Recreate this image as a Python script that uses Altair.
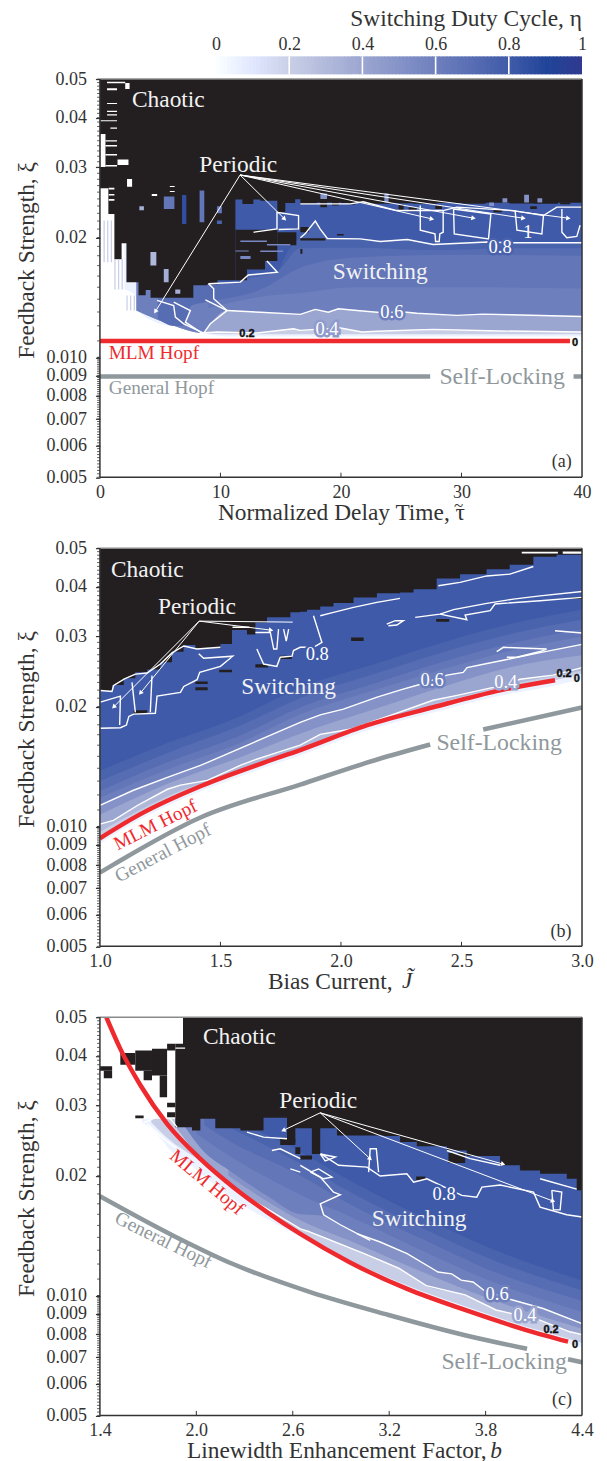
import altair as alt
import pandas as pd

SERIF = "Liberation Serif"
BLACK = "#231f20"; RED = "#ee2a2e"; GRAY = "#8f989c"; INK = "#333333"
W, H = 482.5, 398.5
TOPS = [76.7, 545.7, 1015.0]
LEFT = 99.5
levels = [0, .2, .4, .6, .8, .9, 1]
level_colors = ["#ffffff", "#c8cee6", "#9aa5d0", "#6d7fbd", "#3e5aa8", "#1f4499", "#30398f"]
cmap = alt.Scale(domain=levels, range=level_colors)
xi_major = [.05, .04, .03, .02, .01, .009, .008, .007, .006, .005]
xi_minor = [round(.005 + .0001 * i, 4) for i in range(51)] + [round(.01 + .001 * i, 3) for i in range(41)]

# ---------- panel (a) : delay time ----------
a_bands = [
 (.05, [2.03,2.95,3.03,6.13,6.82,8.47,10.8,40], [.01481,.0143,.01311,.01199,.01199,.01151,.01129,.01129]),
 (.2, [3.03,6.13,8.47,10.8,40], [.01311,.012,.01151,.01143,.01143]),
 (.4, [3.03,6.13,8.47,9.72,13.03,16.07,16.62,17.87,19.95,21.74,22.98,27.65,33.2,40],
      [.01311,.012,.01151,.01158,.01151,.0118,.01169,.01176,.01185,.01158,.01163,.01176,.01165,.01158]),
 (.6, [3.03,6.13,8.58,9.16,10.55,13.31,16.63,17.87,18.95,19.78,21.33,22.99,25.47,26.3,29.62,31.8,34.04,40],
      [.01311,.012,.01151,.01214,.01311,.01298,.01282,.0132,.01298,.01324,.01311,.01298,.01298,.01291,.01275,.01284,.01279,.01267]),
 (.65, [9,13.31,16.63,21,29.62,40], [.0133,.0142,.0145,.015,.015,.0149]),
 (.7, [4.8,6.1,6.9,7.6,9,13.31,16.63,21,29.62,40], [.0125,.012,.012,.0135,.01379,.0148,.0168,.0178,.0181,.018]),
 (.75, [11,14.72,16.63,21.6,27.65,34.3,40], [.0156,.0165,.0188,.01885,.0186,.0188,.0188]),
 (.8, [9.0,11.65,12.31,14.72,15.2,15.8,16.63,17.0,17.87,18.28,18.87,21.6,23.26,25.5,27.65,32.13,34.3,40],
      [.0153,.01545,.0161,.01636,.01754,.0189,.01997,.0204,.022,.021,.01988,.01984,.01954,.01977,.0192,.01948,.0194,.0194]),
]
a_patches = [
 (.92, [(2.03,.01481,.05),(2.95,.0143,.05),(3.03,.01311,.05),(4.77,.01245,.05),(4.78,.01245,.0139),(6.12,.012,.0135),(6.26,.01195,.01262),(6.82,.01199,.01214)]),
 (.92, [(14.69,.02102,.05),(16.48,.02102,.05)]),
 (.92, [(26.58,.02087,.05),(27.8,.02042,.05),(28.48,.02062,.05)]),
 (.92, [(29.34,.02042,.05),(32.44,.01984,.05)]),
 (.92, [(34.45,.02087,.05),(36.8,.02042,.05)]),
 (.92, [(38.33,.02062,.05),(38.74,.01997,.05),(39.57,.02012,.05),(39.84,.02147,.05)]),
]
a_edge_x = [0,.7,1.2,1.8,2.2,3.2,3.8,4.2,7.75,8.9,9.75,11.24,11.82,12.73,13.31,14.72,15.38,16.2,16.63,18,20,22,24,26,28,30,32,34,36,38,40]
a_edge_y = [.02658,.0229,.01764,.01935,.01545,.01433,.01477,.01411,.01518,.01527,.01563,.0249,.02429,.0249,.02472,.02315,.0244,.02495,.02429,.0245,.0244,.0243,.02437,.0243,.0244,.0243,.02445,.02435,.0243,.02445,.02445]
a_black = [(11.24,12.2,.02091,.01563),(12.2,13.7,.02091,.01661),(13.7,14.72,.02091,.01746),(14.72,16.3,.02062,.01912),
 (18.29,18.84,.025,.02384),(19.26,19.81,.025,.02406),(20.64,21.19,.02448,.02421),(24.78,25.2,.02421,.02337),(25.61,26.3,.02384,.02328),
 (27.82,28.38,.02406,.02359),(32.66,33.35,.02345,.02314),(35.7,36.25,.02397,.02359),(38.19,39.02,.02448,.02425),
 (16.63,17.32,.02124,.02062),(16.63,18.7,.01992,.01966),(19.67,20.22,.02042,.02024),(16.63,16.8,.0187,.0182)]
a_bits = [(.55,11.65,13.86,.01966,.01948),(.55,13.3,15.2,.01855,.01838),(.55,11.24,12.35,.01855,.01844),(.55,11.65,12.5,.01796,.01767),(.55,13.86,15.8,.01927,.01909),
 (.65,5.3,6.18,.02536,.02359),(.85,6.81,7.17,.02558,.02163),(.65,8.27,8.66,.02625,.02185),(.65,9.71,10.12,.02397,.02301),(.75,9.71,10.12,.02206,.02163),
 (.35,3.27,3.65,.02397,.02342),(.3,4.19,4.68,.01838,.017),(.35,5.3,5.7,.01668,.01545),(.35,6.25,6.67,.0148,.01444),
 (.5,18.29,18.84,.0258,.025),(.5,23.6,23.95,.0258,.0245),(.5,32.3,32.7,.0245,.024),(.5,33.4,33.8,.0251,.0245),(.5,35.2,35.6,.0256,.0245),(.5,36.3,36.7,.0251,.0245),
 (.2,.3,.4,.02206,.01734),(.2,.6,.7,.02206,.01734),(.2,.9,1.0,.02206,.01734),
 (.2,1.2,1.3,.01767,.0148),(.2,1.5,1.6,.01767,.0148),(.2,1.8,1.9,.01767,.0148),
 (.2,2.2,2.3,.0143,.01311),(.2,2.5,2.6,.0143,.01311),(.2,2.8,2.9,.0143,.01311)]
a_white = [(.04,.46,.03639,.03005),(2.1,2.46,.04887,.04719),(.59,2.1,.04926,.04877),(.59,1.42,.04738,.04689),(.59,1.42,.04353,.04328),
 (.59,1.42,.04164,.04135),(.59,1.42,.04078,.04049),(.04,1.42,.0394,.03916),(.87,1.42,.03778,.03752),(.46,1.42,.03509,.03483),
 (.46,1.42,.03415,.03385),(.46,1.42,.03242,.03214),(1.46,2.37,.03138,.03043),(.46,1.42,.03043,.03015),(2.25,2.67,.02806,.02684),
 (.73,1.2,.02668,.02638),(.73,1.2,.02573,.02549),(.73,1.2,.025,.02475),(4.3,4.75,.02573,.02543),(5.8,6.2,.02695,.02678),(5.8,6.2,.02618,.02603)]
a_lines = [
 [(8.47,.01151),(9.72,.01158),(13.03,.01151),(16.07,.0118),(16.62,.01169),(17.87,.01176),(19.95,.01185),(21.74,.01158),(22.98,.01163),(27.65,.01176),(33.2,.01165),(40,.01158)],
 [(10.55,.01311),(13.31,.01298),(16.63,.01282),(17.87,.0132),(18.95,.01298),(19.78,.01324),(21.33,.01311),(22.99,.01298),(25.47,.01298),(26.3,.01291),(29.62,.01275),(31.8,.01284),(34.04,.01279),(40,.01267)],
 [(16.63,.01997),(17.0,.0204),(17.87,.022),(18.28,.021),(18.87,.01988),(21.6,.01984),(23.26,.01954),(25.5,.01977),(27.65,.0192),(32.13,.01948),(34.3,.0194),(40,.0194)],
 [(9.0,.0153),(11.65,.01545),(12.31,.0161),(14.72,.01636),(13.86,.01746)],
 [(4.74,.0139),(6.12,.0135),(6.26,.01262),(6.95,.01214),(8.61,.01151)],
 [(6.12,.01376),(7.5,.01311),(7.09,.01226),(8.47,.01151)],
 [(8.75,.01395),(10.55,.01311),(9.16,.01214),(8.61,.01151)],
 [(9.02,.0153),(9.44,.01486),(9.44,.01403),(10.55,.01311)],
 [(12.75,.02062),(14.69,.02102),(14.69,.02314),(16.48,.02271),(16.48,.02102),(14.83,.02094)],
 [(26.58,.02406),(26.58,.02087),(27.8,.02042),(27.85,.01954),(28.15,.01954),(28.2,.02042),(28.48,.02062),(28.48,.02337)],
 [(29.34,.02359),(29.4,.02042),(32.24,.01984),(32.44,.02292),(29.34,.02359)],
 [(34.45,.02337),(34.6,.02087),(36.67,.02042),(36.8,.02271)],
 [(38.33,.02359),(38.33,.02062),(38.74,.01997),(39.57,.02012),(39.84,.02147)],
 [(16.63,.02429),(20.77,.02429),(21.85,.0246),(24.64,.02337),(28.48,.02337),(29.62,.02384),(34.3,.02337),(36.8,.02271),(37.91,.02384),(40,.02384)],
]
a_leaders = [(11.63,.02871,4.6,.01303,121.8),(11.63,.02871,15.32,.02227,45),(11.63,.02871,27.55,.02227,13),
 (11.63,.02871,31.0,.02236,10.5),(11.63,.02871,35.14,.02236,8.6),(11.63,.02871,38.87,.02236,7.5)]
a_red = [[(0,.011),(39,.011)]]
a_gray = [[(0,.00895),(27.4,.00895)],[(39.3,.00895),(40,.00895)]]

# ---------- panel (b) : bias current ----------
b_j = [1,1.168,1.417,1.678,1.831,2.109,2.382,2.66,2.888,3]
b_red = [.00934,.01074,.01262,.01445,.01555,.01796,.01992,.02197,.0233,.02417]
b_coarse = [1,1.28,1.58,1.83,2.15,2.44,2.69,3]
b_bands = [
 (.05, b_j, [.00906,.01042,.01224,.01402,.01508,.01742,.01932,.02131,.0226,.02345]),
 (.2, b_j, b_red),
 (.3, b_coarse, [.0097,.0119,.0138,.0155,.0184,.0207,.0226,.0246]),
 (.4, [1,1.056,1.155,1.28,1.334,1.446,1.582,1.636,1.831,1.914,2.038,2.217,2.382,2.482,2.632,2.743,2.88,3],
      [.01014,.01036,.01129,.0124,.0127,.01305,.01423,.01466,.016,.01704,.01754,.01912,.02075,.02134,.02235,.02342,.02399,.02505]),
 (.5, b_coarse, [.0107,.0128,.0149,.0171,.0198,.0226,.025,.0269]),
 (.6, [1,1.139,1.28,1.417,1.831,1.914,2.01,2.15,2.258,2.33,2.44,2.507,2.523,2.688,2.826,3],
      [.01129,.01233,.01329,.01423,.01826,.01906,.01971,.02113,.02212,.02276,.02399,.02438,.02505,.02626,.02732,.02866]),
 (.65, b_coarse, [.0118,.0139,.0162,.0191,.0221,.025,.0275,.03]),
 (.7, b_coarse, [.0123,.0145,.0169,.0199,.023,.0261,.0287,.0313]),
 (.75, b_coarse, [.013,.0153,.0179,.021,.0243,.0276,.0303,.0331]),
 (.8, b_coarse, [.0138,.0162,.0189,.0223,.0257,.0292,.0321,.035]),
]
b_patches = [
 (.93, [(1.002,.01798,.05),(1.082,.01798,.05),(1.082,.0209,.05),(1.133,.0209,.05),(1.133,.01935,.05),(1.234,.01935,.05),(1.234,.02139,.05),(1.334,.02139,.05),(1.334,.02236,.05),(1.403,.02236,.05),(1.403,.02346,.05),(1.417,.02346,.05),(1.417,.02505,.05),(1.5,.02505,.05),(1.5,.02658,.05),(1.548,.02658,.05)]),
 (.93, [(1.645,.0279,.05),(1.672,.02558,.05),(1.734,.02535,.05),(1.748,.02677,.05),(1.831,.02677,.05),(1.886,.02818,.05),(1.921,.02898,.05),(1.93,.0338,.05)]),
 (.93, [(1.914,.03383,.05),(1.969,.03449,.05),(2.052,.03549,.05),(2.149,.03655,.05),(2.245,.03739,.05)]),
 (.93, [(2.404,.04022,.05),(2.494,.04101,.05),(2.605,.04258,.05),(2.701,.04303,.05),(2.798,.04497,.05)]),
 (.85, [(2.619,.03483,.03645),(2.639,.0362,.03655),(2.715,.03655,.03724),(2.826,.03689,.03795),(3.0,.03761,.03893)]),
]
b_edge_x = [1,1.05,1.099,1.147,1.196,1.251,1.299,1.347,1.396,1.5,1.548,1.61,1.645,1.693,1.79,1.831,1.859,1.914,1.969,2.052,2.149,2.245,2.301,2.397,2.494,2.604,2.7,2.798,2.895,3]
b_edge_y = [.02194,.02266,.02355,.02438,.0248,.02583,.02747,.02855,.02803,.02871,.03113,.03035,.03255,.03351,.03449,.03463,.03503,.03568,.03639,.03761,.03855,.03869,.03945,.04197,.04302,.04429,.04542,.04755,.04813,.04813]
b_black = [(1.14,1.196,.01958,.01915),(1.396,1.447,.02314,.02278),(1.396,1.447,.02236,.02197),(1.495,1.548,.02475,.02439),(1.645,1.697,.02555,.02508),(1.745,1.796,.02684,.02633),
 (2.042,2.094,.02982,.02923),(2.395,2.449,.03321,.03269),(2.947,3.0,.03761,.03724)]
b_bits = []
b_white = [(2.92,3.0,.04905,.0484),(2.75,2.9,.0490,.0485),(1.55,1.62,.0318,.0315)]
b_lines = [
 [(1,.01014),(1.056,.01036),(1.155,.01129),(1.28,.0124),(1.334,.0127),(1.446,.01305),(1.582,.01423),(1.636,.01466),(1.831,.016),(1.914,.01704),(2.038,.01754),(2.217,.01912),(2.382,.02075),(2.482,.02134),(2.632,.02235),(2.743,.02342),(2.88,.02399),(3,.02505)],
 [(1,.01129),(1.139,.01233),(1.28,.01329),(1.417,.01423),(1.831,.01826),(1.914,.01906),(2.01,.01971),(2.15,.02113),(2.258,.02212),(2.33,.02276),(2.44,.02399),(2.507,.02438),(2.523,.02505),(2.688,.02626),(2.826,.02732),(3,.02866)],
 [(1.002,.01764),(1.085,.0177),(1.11,.01798),(1.12,.0189),(1.14,.01915),(1.23,.01925),(1.237,.02125),(1.334,.02172),(1.348,.02247),(1.403,.02337),(1.414,.02438),(1.5,.02524),(1.551,.02677),(1.43,.02645),(1.41,.02716)],
 [(1.002,.02052),(1.085,.02125),(1.082,.01798)],
 [(1.133,.023),(1.147,.01935)],
 [(1.216,.02392),(1.209,.01935)],
 [(1.002,.02196),(1.05,.02182),(1.057,.0226),(1.102,.02347),(1.147,.02414),(1.196,.02428),(1.251,.02558),(1.299,.02728),(1.348,.0284),(1.403,.0279),(1.5,.02818)],
 [(1.651,.0279),(1.679,.02558),(1.734,.02524),(1.748,.02661),(1.797,.02677),(1.803,.02765),(1.831,.02818),(1.886,.02818),(1.921,.02898),(1.886,.03383)],
 [(1.645,.03071),(1.707,.03071),(1.721,.0279),(1.734,.0279),(1.741,.03131)],
 [(1.762,.03131),(1.773,.0292),(1.783,.03131)],
 [(1.914,.03383),(1.969,.03449),(2.052,.03549),(2.149,.03655),(2.245,.03739)],
 [(2.404,.04022),(2.494,.04101),(2.605,.04258),(2.701,.04303),(2.798,.04497)],
 [(2.308,.03351),(2.411,.03415),(2.467,.03505),(2.605,.03634),(2.715,.03724),(2.826,.03795),(3.0,.03893)],
 [(2.411,.03415),(2.522,.03306),(2.515,.03396),(2.619,.03483),(2.639,.0362),(2.826,.03689),(3.0,.03761)],
 [(2.646,.0275),(2.674,.02818),(2.853,.0279),(2.826,.0275),(2.729,.02661),(2.688,.02661)],
 [(2.888,.031),(3.0,.0306)],
 [(2.19,.03222),(2.225,.03287),(2.259,.03287),(2.232,.03205),(2.197,.03192)],
]
b_leaders = [(1.412,.03279,1.057,.01996,134.8),(1.412,.03279,1.168,.02163,129.3),(1.412,.03279,1.71,.03112,7.2)]
b_leader_plain = [(1.412,.03279,1.80,.0326)]
b_redline = [list(zip(b_j[:9], b_red[:9]))]
b_gray = [[(1,.00766),(1.056,.00802),(1.417,.01053),(1.831,.01274),(2.154,.01475),(2.37,.01606)],[(2.59,.01752),(3.0,.01989)]]

# ---------- panel (c) : linewidth enhancement ----------
c_coarse = [2.2,2.6,3,3.4,3.8,4.4]
c_bands = [
 (.05, [1.662,1.755,1.838,1.963,2.108,2.274,2.439,2.647,2.951,3.312,3.672,4.033,4.313,4.4],
       [.02726,.02549,.02314,.02124,.01906,.017,.01559,.01403,.012,.01027,.0091,.00814,.00758,.0074]),
 (.2, [1.72,1.838,1.963,2.108,2.274,2.439,2.647,2.951,3.312,3.672,4.033,4.313,4.4],
      [.0272,.0245,.0226,.0207,.0184,.0163,.01445,.0123,.0106,.0094,.0084,.0078,.0076]),
 (.4, [1.88,2.025,2.23,2.44,2.647,2.709,3.045,3.262,3.431,3.673,3.865,4.133,4.325,4.4],
      [.0262,.0222,.0189,.0165,.0147,.01444,.01275,.0117,.01059,.01004,.0092,.00869,.00811,.00799]),
 (.5, c_coarse, [.02,.0158,.0135,.0115,.0099,.00825]),
 (.6, [1.93,2.025,2.23,2.44,2.647,2.771,2.895,3.0,3.144,3.312,3.504,3.589,3.648,3.722,3.803,3.94,4.158,4.4],
      [.0265,.0235,.0203,.0178,.016,.0159,.01503,.01431,.01363,.01275,.01146,.01134,.01093,.01082,.01021,.00982,.00928,.00851]),
 (.65, [2.0,2.2,2.6,3,3.4,3.8,4.4], [.0255,.0225,.0183,.0155,.013,.011,.0091]),
 (.7, [2.05,2.2,2.6,3,3.4,3.8,4.4], [.0268,.0245,.0205,.0166,.0139,.0117,.0097]),
 (.75, c_coarse, [.0265,.022,.0178,.0148,.0125,.0103]),
 (.8, [2.3,2.6,3,3.4,3.8,4.4], [.0268,.0235,.019,.0158,.0133,.0109]),
]
c_patches = [
 (.92, [(2.775,.02268,.05),(2.885,.02124,.05),(3.062,.02102,.05),(3.144,.01996,.05),(3.31,.02022,.05),(3.352,.01927,.05),(3.435,.01965,.05),(3.652,.01785,.05),(3.745,.01767,.05),(3.777,.01872,.05),(3.891,.01895,.05),(4.098,.01819,.05),(4.139,.01668,.05),(4.305,.01596,.05),(4.4,.01575,.05)]),
 (.9, [(2.429,.02476,.02779),(2.564,.02476,.02779)]),
 (.9, [(2.647,.02292,.02633),(2.72,.02292,.02633)]),
]
c_edge_x = [1.917,1.973,2.025,2.118,2.274,2.418,2.564,2.616,2.647,2.719,2.771,2.875,3.165,3.268,3.372,3.559,3.683,3.89,4.015,4.139,4.305,4.367,4.4]
c_edge_y = [.02648,.02599,.02779,.02633,.02599,.02795,.02415,.02633,.02633,.02268,.02633,.02525,.02516,.02429,.0237,.02314,.0224,.02124,.02062,.02022,.01965,.01838,.01838]
c_cover = [(1.4,1.917,.05,.0278)]
c_black = [(1.4,1.476,.03768,.0367),(1.424,1.476,.0367,.03515),(1.527,1.62,.04067,.03798),(1.62,1.724,.04125,.0367),(1.672,1.724,.0367,.03476),
 (1.724,1.818,.04165,.03572),(1.772,1.818,.03572,.0315),(1.818,1.869,.04289,.04125),(1.869,1.917,.04289,.02648),(1.818,1.869,.03048,.02973),(1.818,1.869,.02888,.02806),
 (1.62,1.672,.02835,.0279),(2.522,2.616,.02476,.02388),(2.616,2.647,.02359,.02268),(2.647,2.72,.02247,.02195),(3.368,3.424,.0199,.0195),(3.569,3.673,.0228,.02153),(4.013,4.11,.0211,.0208)]
c_bits = []
c_white = [(1.87,1.93,.0420,.0417)]
c_lines = [
 [(2.709,.01444),(3.045,.01275),(3.262,.0117),(3.431,.01059),(3.673,.01004),(3.865,.0092),(4.133,.00869),(4.325,.00811),(4.396,.00799)],
 [(2.3,.0178),(2.44,.0165),(2.647,.0147),(2.709,.01444)],
 [(3.0,.01431),(3.144,.01363),(3.312,.01275),(3.504,.01146),(3.589,.01134),(3.648,.01093),(3.722,.01082),(3.803,.01021),(3.94,.00982),(4.158,.00928),(4.396,.00851)],
 [(2.775,.02268),(2.885,.02124),(3.062,.02102),(3.144,.01996),(3.31,.02022),(3.352,.01927),(3.435,.01965),(3.652,.01785),(3.745,.01767),(3.777,.01872),(3.891,.01895),(4.098,.01819),(4.139,.01668),(4.305,.01596),(4.4,.01575)],
 [(2.771,.02268),(2.865,.02228),(2.802,.0218),(2.771,.02268)],
 [(2.647,.02124),(2.771,.01984),(2.854,.01819),(2.896,.01792),(2.771,.017),(2.792,.01596),(2.896,.01506),(3.082,.01376),(3.0,.01431)],
 [(2.709,.02042),(2.761,.0208),(2.844,.01984),(2.792,.01965),(2.709,.02042)],
 [(3.072,.02042),(3.082,.02337),(3.12,.02337),(3.134,.02042)],
 [(4.212,.01838),(4.274,.01819),(4.264,.01641),(4.222,.01641),(4.212,.01838)],
 [(3.559,.02314),(3.704,.02208),(3.891,.02124)],
 [(4.139,.01965),(4.367,.01851)],
 [(2.315,.02573),(2.418,.025),(2.564,.02476)],
 [(2.47,.02314),(2.522,.02337),(2.647,.02208)],
 [(2.585,.0208),(2.647,.02042)],
 [(1.693,.027),(1.797,.02476),(1.88,.02337)],
 [(1.672,.0272),(1.755,.02806),(1.838,.02779),(1.88,.02648)],
]
c_leaders = [(2.771,.02877,2.541,.02599,154.6),(2.771,.02877,3.082,.02205,42.6),(2.771,.02877,3.909,.02139,15.6),(2.771,.02877,4.22,.01727,20.7)]
c_redline = [[(1.44,.05),(1.527,.04165),(1.652,.03375),(1.818,.02699),(2.025,.02205),(2.23,.01872),(2.44,.01621),(2.647,.01428),(2.951,.01214),(3.312,.01039),(3.672,.0092),(4.033,.00824),(4.313,.00766)]]
c_gray = [[(1.4,.01777),(1.863,.0141),(2.228,.012),(2.709,.0102),(3.191,.00895),(3.672,.00795),(4.058,.00735)],[(4.313,.00692),(4.4,.0068)]]

# ---------- helpers ----------
def rule_df(rows, keys):
    return pd.DataFrame(rows, columns=keys)

def path_df(paths):
    rows = []
    for k, p in enumerate(paths):
        for i, (x, y) in enumerate(p):
            rows.append({"id": k, "i": i, "x": x, "y": y})
    return pd.DataFrame(rows)

def label(text, px, py, top, size=23.4, color="#f2f2f2", angle=0, align="center", style="normal",
          font=SERIF, weight="normal", stroke=None, sw=0):
    kw = dict(font=font, fontSize=size, color=color, align=align, baseline="middle", fontStyle=style,
              fontWeight=weight, angle=angle)
    if stroke:
        kw.update(stroke=stroke, strokeWidth=sw)
    return alt.Chart(pd.DataFrame({"t": [text]})).mark_text(**kw).encode(
        x=alt.value(px - LEFT), y=alt.value(py - top), text="t:N")

def panel(top, dom, xticks, xfmt, xtitle, title_x, bands, patches, ex, ey, cover, black, bits, white,
          lines, leaders, plain, red, gray, labels):
    xs = alt.Scale(domain=dom, nice=False, zero=False)
    ys = alt.Scale(type="log", domain=[.005, .05], nice=False)
    yaxis = alt.Axis(values=xi_major, labelExpr="datum.value<0.0105?format(datum.value,'.3f'):format(datum.value,'.2f')",
                     title="Feedback Strength, \u03be", titleX=-66, titleY=181, titleFont=SERIF, titleFontSize=23.4,
                     titleFontWeight="normal", titleColor=INK, labelFont=SERIF, labelFontSize=18, labelColor=INK,
                     tickSize=4.5, tickColor=INK, tickWidth=1.2, domain=False, grid=False, labelPadding=9,
                     titleBaseline="alphabetic", titleAlign="center", titleAngle=270)
    xaxis = alt.Axis(values=xticks, format=xfmt, title=xtitle, titleX=title_x, titleY=42.5, titleBaseline="alphabetic",
                     titleFont=SERIF, titleFontSize=23.4, titleFontWeight="normal", titleColor=INK,
                     labelFont=SERIF, labelFontSize=18, labelColor=INK, ticks=False, domain=False, grid=False,
                     labelPadding=6, labelFlush=False, labelOverlap=False)
    X = alt.X("x:Q", scale=xs, axis=xaxis)
    Y = alt.Y("y:Q", scale=ys, axis=yaxis)
    X1 = alt.X("x1:Q", scale=xs, axis=xaxis)
    Y1 = alt.Y("y1:Q", scale=ys, axis=yaxis)
    L = []
    for v, bx, by in bands:
        df = pd.DataFrame({"x": bx, "y": by, "y2": [.05] * len(bx), "v": [v] * len(bx)})
        L.append(alt.Chart(df).mark_area(clip=True, interpolate="monotone").encode(x=X, y=Y, y2="y2:Q",
                 color=alt.Color("v:Q", scale=cmap, legend=None)))
    for v, p in patches:
        df = pd.DataFrame(p, columns=["x", "y", "y2"])
        df["i"] = range(len(df)); df["v"] = v
        L.append(alt.Chart(df).mark_area(clip=True).encode(x=X, y=Y, y2="y2:Q", order="i:Q",
                 color=alt.Color("v:Q", scale=cmap, legend=None)))
    keys = ["x1", "x2", "y1", "y2"]
    if cover:
        L.append(alt.Chart(rule_df(cover, keys)).mark_rect(color="white", clip=True).encode(x=X1, x2="x2:Q", y=Y1, y2="y2:Q"))
    L.append(alt.Chart(pd.DataFrame({"x": ex, "y": ey, "y2": [.05] * len(ex)})).mark_area(
        color=BLACK, interpolate="step-after", clip=True).encode(x=X, y=Y, y2="y2:Q"))
    L.append(alt.Chart(rule_df(black, keys)).mark_rect(color=BLACK, clip=True).encode(x=X1, x2="x2:Q", y=Y1, y2="y2:Q"))
    if bits:
        L.append(alt.Chart(rule_df(bits, ["v"] + keys)).mark_rect(clip=True).encode(x=X1, x2="x2:Q", y=Y1, y2="y2:Q",
                 color=alt.Color("v:Q", scale=cmap, legend=None)))
    if white:
        L.append(alt.Chart(rule_df(white, keys)).mark_rect(color="white", clip=True).encode(x=X1, x2="x2:Q", y=Y1, y2="y2:Q"))
    L.append(alt.Chart(path_df(lines)).mark_line(color="white", strokeWidth=1.4, clip=True).encode(
        x=X, y=Y, detail="id:N", order="i:Q"))
    L.append(alt.Chart(path_df(red)).mark_line(color=RED, strokeWidth=4.5, clip=True, interpolate="monotone").encode(
        x=X, y=Y, detail="id:N", order="i:Q"))
    L.append(alt.Chart(path_df(gray)).mark_line(color=GRAY, strokeWidth=4.5, clip=True, interpolate="monotone").encode(
        x=X, y=Y, detail="id:N", order="i:Q"))
    ld = rule_df(leaders, ["x1", "y1", "x", "y", "ang"])
    L.append(alt.Chart(ld).mark_rule(color="white", strokeWidth=1).encode(x=X1, y=Y1, x2="x:Q", y2="y:Q"))
    if plain:
        L.append(alt.Chart(rule_df(plain, ["x1", "y1", "x", "y"])).mark_rule(color="white", strokeWidth=1).encode(x=X1, y=Y1, x2="x:Q", y2="y:Q"))
    L.append(alt.Chart(ld).mark_point(shape="triangle-right", filled=True, color="white", size=26, opacity=1).encode(
        x=X, y=Y, angle=alt.Angle("ang:Q", scale=None)))
    L.extend(labels)
    L.append(alt.Chart(pd.DataFrame({"y": xi_minor})).mark_rule(color=INK, strokeWidth=.8).encode(
        y=Y, x=alt.value(-2.8), x2=alt.value(0)))
    L.append(alt.Chart(pd.DataFrame({"x": xticks[1:-1]})).mark_rule(color=INK, strokeWidth=1).encode(
        x=X, y=alt.value(H - 4.5), y2=alt.value(H)))
    L.append(alt.Chart(pd.DataFrame({"n": [1]})).mark_rule(color="#8a8a8a", strokeWidth=1.5).encode(
        x=alt.value(0), x2=alt.value(W), y=alt.value(0)))
    L.append(alt.Chart(pd.DataFrame({"n": [1]})).mark_rule(color=INK, strokeWidth=1.5).encode(
        x=alt.value(0), x2=alt.value(W), y=alt.value(H)))
    L.append(alt.Chart(pd.DataFrame({"n": [1]})).mark_rule(color=INK, strokeWidth=1.5).encode(
        y=alt.value(0), y2=alt.value(H), x=alt.value(0)))
    L.append(alt.Chart(pd.DataFrame({"n": [1]})).mark_rule(color=INK, strokeWidth=1.5).encode(
        y=alt.value(0), y2=alt.value(H), x=alt.value(W)))
    return alt.layer(*L).properties(width=W, height=H)

def num(text, px, py, top, bg):
    return [label(text, px, py, top, size=18.5, color=bg, stroke=bg, sw=5), label(text, px, py, top, size=18.5, color="white")]

def tiny(text, px, py, top):
    return label(text, px, py, top, size=11, color="#111111", font="Liberation Sans", weight="bold", stroke="#111111", sw=.4)

T = TOPS[0]
a_labels = [label("Chaotic", 168, 98, T), label("Periodic", 238, 163, T), label("Switching", 380, 270, T),
    *num("0.8", 500, 245, T, "#4a62ad"), label("1", 527.7, 230, T, size=18.5, color="white"),
    *num("0.6", 391.7, 310, T, "#6d7fbd"), *num("0.4", 326.7, 326.7, T, "#8f9bcb"),
    tiny("0.2", 246.7, 332, T), tiny("0", 575, 340.7, T),
    label("MLM Hopf", 108.3, 350.7, T, size=19.3, color=RED, align="left"),
    label("General Hopf", 108.3, 385.7, T, size=19.3, color=GRAY, align="left"),
    label("Self-Locking", 502, 375, T, size=23.8, color=GRAY),
    label("(a)", 561.7, 460, T, size=18, color=INK),
    label("~", 458.5, 504.5, T, size=17, color=INK)]
T = TOPS[1]
b_labels = [label("Chaotic", 147, 567.3, T), label("Periodic", 196.7, 605, T), label("Switching", 288.3, 685, T),
    *num("0.8", 317, 651.7, T, "#3e5aa8"), *num("0.6", 432, 678, T, "#6d7fbd"), *num("0.4", 505.7, 680, T, "#9aa5d0"),
    tiny("0.2", 564, 671.7, T), tiny("0", 576.7, 677, T),
    label("MLM Hopf", 155, 822.7, T, size=19.3, color=RED, angle=333.4),
    label("General Hopf", 162.5, 850.7, T, size=19.3, color=GRAY, angle=332.3),
    label("Self-Locking", 499, 740.7, T, size=23.8, color=GRAY),
    label("(b)", 561, 930, T, size=18, color=INK),
    label("J\u0303", 407, 979, T, style="italic", color=INK)]
T = TOPS[2]
c_labels = [label("Chaotic", 239, 1035, T), label("Periodic", 318, 1099.3, T), label("Switching", 419, 1216.7, T),
    *num("0.8", 444, 1191.7, T, "#3e5aa8"), *num("0.6", 497, 1291.7, T, "#6d7fbd"), *num("0.4", 525, 1313, T, "#9aa5d0"),
    tiny("0.2", 551, 1328, T), tiny("0", 575, 1343, T),
    label("MLM Hopf", 206.7, 1180, T, size=19.3, color=RED, angle=40),
    label("General Hopf", 163, 1238, T, size=19.3, color=GRAY, angle=26),
    label("Self-Locking", 504, 1360, T, size=23.8, color=GRAY),
    label("(c)", 562, 1398, T, size=18, color=INK),
    label("b", 496, 1449, T, style="italic", color=INK)]

pa = panel(TOPS[0], [0, 40], [0, 10, 20, 30, 40], "d", "Normalized Delay Time, \u03c4", 241.25, a_bands, a_patches, a_edge_x, a_edge_y,
           None, a_black, a_bits, a_white, a_lines, a_leaders, None, a_red, a_gray, a_labels)
pb = panel(TOPS[1], [1, 3], [1.0, 1.5, 2.0, 2.5, 3.0], ".1f", "Bias Current,", 230, b_bands, b_patches, b_edge_x, b_edge_y,
           None, b_black, b_bits, b_white, b_lines, b_leaders, b_leader_plain, b_redline, b_gray, b_labels)
pc = panel(TOPS[2], [1.4, 4.4], [1.4, 2.0, 2.6, 3.2, 3.8, 4.4], ".1f", "Linewidth Enhancement Factor,", 236.5, c_bands, c_patches, c_edge_x, c_edge_y,
           c_cover, c_black, c_bits, c_white, c_lines, c_leaders, None, c_redline, c_gray, c_labels)

# colour bar on the top of panel (a)
bar_v = [i / 100 for i in range(100)]
bar_scale = alt.Scale(domain=[0, 1], range=[116.2, W], nice=False)
bar_df = pd.DataFrame({"v": bar_v, "v2": [min(1, v + .012) for v in bar_v]})
bar_axis = alt.Axis(orient="top", offset=22.7, values=[0, .2, .4, .6, .8, 1], labelExpr="format(datum.value,'.1~f')", title=None,
                    domain=False, ticks=False, grid=False, labelFont=SERIF, labelFontSize=18, labelColor=INK, labelPadding=3,
                    labelFlush=False)
bar = alt.Chart(bar_df).mark_rect().encode(
    x=alt.X("v:Q", scale=bar_scale, axis=bar_axis), x2="v2:Q", y=alt.value(-22.7), y2=alt.value(-4.7),
    color=alt.Color("v:Q", scale=cmap, legend=None))
seps = alt.Chart(pd.DataFrame({"v": [.2, .4, .6, .8]})).mark_rule(color="white", strokeWidth=1.6).encode(
    x=alt.X("v:Q", scale=bar_scale, axis=None), y=alt.value(-22.7), y2=alt.value(-4.7))
bar_title = alt.Chart(pd.DataFrame({"t": ["Switching Duty Cycle, \u03b7"]})).mark_text(
    font=SERIF, fontSize=23.4, color=INK, align="right", baseline="middle").encode(
    x=alt.value(W), y=alt.value(16.5 - TOPS[0]), text="t:N")
pa_full = alt.layer(pa, bar, seps, bar_title).resolve_scale(x="independent", y="independent")

chart = alt.vconcat(pa_full, pb, pc, spacing=70.5, bounds="flush").properties(
    padding={"left": 7, "top": -2.5, "right": 5, "bottom": 0}).configure(font=SERIF).configure_view(stroke=None)
chart.save("out.html", embed_options={"renderer": "svg", "actions": False})
